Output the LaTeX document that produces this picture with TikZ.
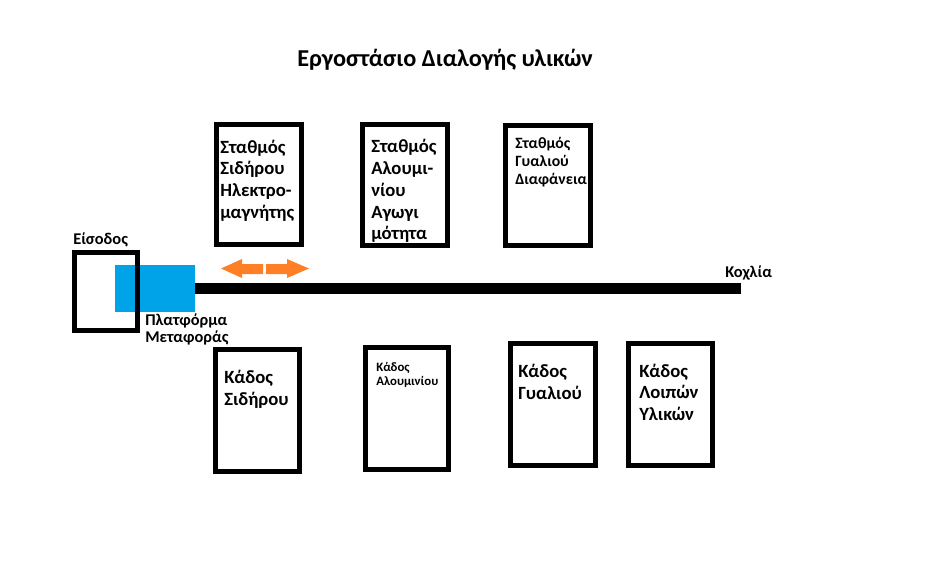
\documentclass[tikz,border=0pt]{standalone}
\usepackage{fontspec}
\setmainfont{Carlito}
\usepackage{tikz}
\definecolor{paintblue}{HTML}{00A2E8}
\definecolor{paintorange}{HTML}{FF7F27}

\begin{document}
\begin{tikzpicture}[x=0.75pt,y=-0.75pt,font=\bfseries,line join=miter,
  frame/.style={draw=black,line width=3.75pt},
  lbl/.style={anchor=base west,inner sep=0pt,align=left}]
\useasboundingbox (0,0) rectangle (952,574);
\node[lbl,font=\fontsize{18.2}{22}\selectfont\bfseries] (title) at (297,67) {Εργοστάσιο Διαλογής υλικών};
% entrance and platform
\fill[paintblue] (115,265) rectangle (195,312);
\draw[draw=black,line width=3.4pt] (74.25,252.25) rectangle (137.75,330.75);
\node[lbl,font=\fontsize{12.3}{12.75}\selectfont\bfseries] (entry) at (73,244) {Είσοδος};
\node[lbl,font=\fontsize{12.3}{12.75}\selectfont\bfseries] (platform) at (145,342) {Πλατφόρμα\\Μεταφοράς};
% screw conveyor
\fill[black] (195,283) rectangle (741,294);
\node[lbl,font=\fontsize{12.3}{12.75}\selectfont\bfseries] (screw) at (725,277) {Κοχλία};
\fill[paintorange] (221,268.5) -- (242,259) -- (242,264) -- (263,264) -- (263,274) -- (242,274) -- (242,278) -- cycle;
\fill[paintorange] (309,268.5) -- (287,259) -- (287,264) -- (266,264) -- (266,274) -- (287,274) -- (287,278) -- cycle;
% stations
\draw[frame] (216.5,124.5) rectangle (301.5,244.5);
\node[lbl,font=\fontsize{14}{16.3}\selectfont\bfseries] (st1) at (220,218.2) {Σταθμός\\Σιδήρου\\Ηλεκτρο-\\μαγνήτης};
\begin{scope}
\clip (360,122) rectangle (450,248);
\node[lbl,font=\fontsize{14}{16.3}\selectfont\bfseries] (st2) at (371,239.9) {Σταθμός\\Αλουμι-\\νίου\\Αγωγι\\μότητα};
\end{scope}
\draw[frame] (362.5,124.5) rectangle (447.5,245.5);
\draw[frame] (505.5,125.5) rectangle (590.5,245.5);
\node[lbl,font=\fontsize{11.8}{13.5}\selectfont\bfseries] (st3) at (515,185) {Σταθμός\\Γυαλιού\\Διαφάνεια};
% bins
\draw[frame] (215.5,349.5) rectangle (299.5,471.5);
\node[lbl,font=\fontsize{14}{16.3}\selectfont\bfseries] (bin1) at (224,405.7) {Κάδος\\Σιδήρου};
\draw[frame] (365.5,347.5) rectangle (448.5,469.5);
\node[lbl,font=\fontsize{9.6}{10}\selectfont\bfseries] (bin2) at (376,385.3) {Κάδος\\Αλουμινίου};
\draw[frame] (510.5,343.5) rectangle (595.5,465.5);
\node[lbl,font=\fontsize{14}{16.3}\selectfont\bfseries] (bin3) at (518,399.7) {Κάδος\\Γυαλιού};
\draw[frame] (628.5,343.5) rectangle (712.5,465.5);
\node[lbl,font=\fontsize{14}{16.3}\selectfont\bfseries] (bin4) at (639,420.5) {Κάδος\\Λοιπών\\Υλικών};
\end{tikzpicture}
\end{document}
